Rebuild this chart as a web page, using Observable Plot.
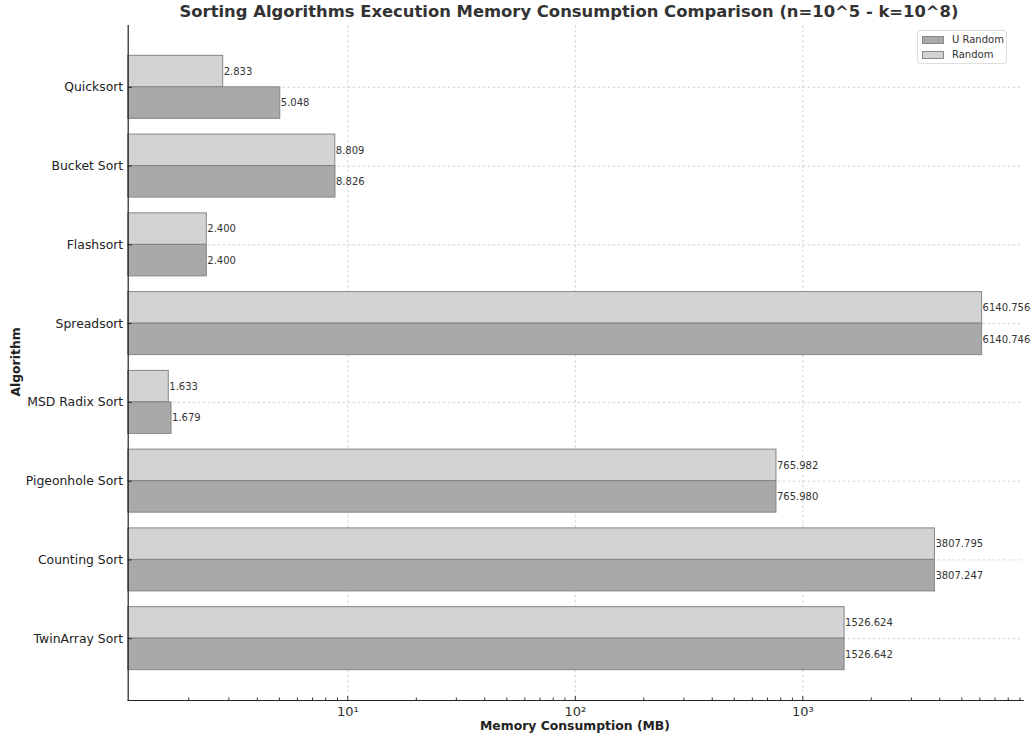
<!DOCTYPE html>
<html><head><meta charset="utf-8">
<script src="https://cdn.jsdelivr.net/npm/d3@7"></script>
<script src="https://cdn.jsdelivr.net/npm/@observablehq/plot@0.6"></script>
<style>
body{margin:0;background:#fff;font-family:"DejaVu Sans",sans-serif;}
#wrap{position:relative;width:1034px;height:736px;overflow:hidden;}
#wrap svg{position:absolute;left:0;top:0;}
.ttl{position:absolute;left:0;top:2px;width:1138px;text-align:center;font-weight:bold;font-size:16.4px;color:#333;white-space:nowrap;}
.xlab{position:absolute;left:0;width:1150px;top:718px;text-align:center;font-weight:bold;font-size:12.4px;color:#222;}
.ylab{position:absolute;left:15px;top:362px;transform:translate(-50%,-50%) rotate(-90deg);font-weight:bold;font-size:12.4px;color:#222;white-space:nowrap;}
.legend{position:absolute;left:917px;top:30px;width:90px;height:34px;border:1px solid #ddd;border-radius:3px;background:rgba(255,255,255,0.85);box-sizing:border-box;}
.legend .row{position:absolute;left:4px;display:flex;align-items:center;font-size:10px;color:#333;}
.legend .sw{width:22px;height:8px;box-sizing:border-box;border:1px solid #888;margin-right:8px;}
</style></head>
<body>
<div id="wrap"></div>
<script>
const algorithms = ["Quicksort","Bucket Sort","Flashsort","Spreadsort","MSD Radix Sort","Pigeonhole Sort","Counting Sort","TwinArray Sort"];
const uRandom = [5.048, 8.826, 2.400, 6140.746, 1.679, 765.980, 3807.247, 1526.642];
const random  = [2.833, 8.809, 2.400, 6140.756, 1.633, 765.982, 3807.795, 1526.624];
const seriesNames = ["U Random", "Random"];
const seriesColors = ["#a9a9a9", "#d3d3d3"];
const majorTicks = [10, 100, 1000];
const xDomain = [1.083, 9307];

const minorTicks = [];
for (const dec of [1, 10, 100, 1000]) for (let m = 2; m <= 9; m++) { const v = m * dec; if (v > xDomain[0] && v < xDomain[1] && !majorTicks.includes(v)) minorTicks.push(v); }

const data = algorithms.map((a, i) => ({algorithm: a, u: uRandom[i], r: random[i]}));

const W = 1034, H = 736, mT = 25, mB = 36, mL = 127.7, mR = 11.3;
const pIn = 0.2, pOut = 0.385;
const step = (H - mT - mB) / (algorithms.length - pIn + 2 * pOut);
const half = step * (1 - pIn) / 2;
const sup = {"0":"⁰","1":"¹","2":"²","3":"³","4":"⁴"};
const grid = {stroke: "#c8c8c8", strokeOpacity: 1, strokeDasharray: "2.5,2.5", strokeWidth: 0.8};

const chart = Plot.plot({
  width: W, height: H,
  marginTop: mT, marginBottom: mB, marginLeft: mL, marginRight: mR,
  style: {fontFamily: "DejaVu Sans, sans-serif", color: "#333", background: "transparent"},
  x: {type: "log", domain: xDomain, axis: null},
  y: {type: "band", domain: algorithms, paddingInner: pIn, paddingOuter: pOut, round: false, axis: null},
  marks: [
    Plot.gridX(majorTicks, grid),
    Plot.gridY(algorithms, grid),
    Plot.barX(data, {x1: () => xDomain[0], x2: "r", y: "algorithm", fill: seriesColors[1], stroke: "#858585", strokeWidth: 1, insetBottom: half}),
    Plot.barX(data, {x1: () => xDomain[0], x2: "u", y: "algorithm", fill: seriesColors[0], stroke: "#858585", strokeWidth: 1, insetTop: half}),
    Plot.text(data, {x: "r", y: "algorithm", text: d => d.r.toFixed(3), dy: -half / 2, dx: 0.5, textAnchor: "start", fontSize: 10, fill: "#333"}),
    Plot.text(data, {x: "u", y: "algorithm", text: d => d.u.toFixed(3), dy: half / 2, dx: 0.5, textAnchor: "start", fontSize: 10, fill: "#333"}),
    Plot.axisY({tickSize: -4, tickPadding: 9, fontSize: 12.4, color: "#222", label: null}),
    Plot.axisX(minorTicks, {tickSize: -2.5, tickFormat: () => "", label: null, color: "#333"}),
    Plot.axisX(majorTicks, {tickSize: -4, tickPadding: 10, fontSize: 13, color: "#333", label: null,
      tickFormat: d => "10" + String(Math.round(Math.log10(d))).split("").map(c => sup[c]).join("")}),
    Plot.frame({anchor: "left", stroke: "#222", strokeWidth: 1.2}),
    Plot.frame({anchor: "bottom", stroke: "#222", strokeWidth: 1.2})
  ]
});

const wrap = document.getElementById("wrap");
wrap.appendChild(chart);

const t = document.createElement("div"); t.className = "ttl";
t.textContent = "Sorting Algorithms Execution Memory Consumption Comparison (n=10^5 - k=10^8)";
wrap.appendChild(t);
const xl = document.createElement("div"); xl.className = "xlab"; xl.textContent = "Memory Consumption (MB)"; wrap.appendChild(xl);
const yl = document.createElement("div"); yl.className = "ylab"; yl.textContent = "Algorithm"; wrap.appendChild(yl);

const lg = document.createElement("div"); lg.className = "legend";
seriesNames.forEach((s, i) => {
  const row = document.createElement("div"); row.className = "row";
  row.style.top = (i === 0 ? 3 : 18) + "px";
  const sw = document.createElement("div"); sw.className = "sw"; sw.style.background = seriesColors[i];
  const tx = document.createElement("span"); tx.textContent = s;
  row.appendChild(sw); row.appendChild(tx); lg.appendChild(row);
});
wrap.appendChild(lg);
</script>
</body></html>
